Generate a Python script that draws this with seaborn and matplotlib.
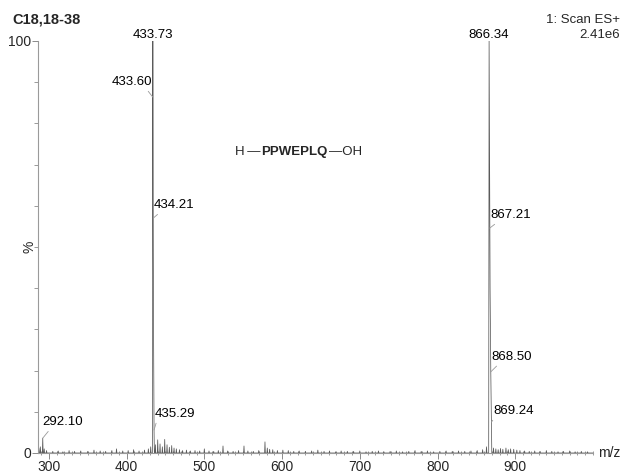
import numpy as np
import pandas as pd
import matplotlib
matplotlib.use("Agg")
import matplotlib.pyplot as plt
from matplotlib.ticker import MultipleLocator, FixedLocator
import seaborn as sns

# ---- data -------------------------------------------------------------
# labelled profile points (m/z, relative intensity %)
label_mz = [292.10, 433.60, 433.73, 434.21, 435.29, 866.34, 867.21, 868.50, 869.24]
label_pct = [3.6, 86.4, 100.0, 57.0, 5.6, 100.0, 54.6, 19.7, 7.5]

# profile of the two main isotope clusters
cluster1_mz = [433.20, 433.60, 433.73, 434.21, 434.70, 435.29, 435.70]
cluster1_pct = [0.0, 86.4, 100.0, 57.0, 28.0, 5.6, 0.0]
cluster2_mz = [865.80, 866.34, 867.21, 867.60, 868.50, 869.24, 869.80]
cluster2_pct = [0.0, 100.0, 54.6, 40.0, 19.7, 7.5, 0.0]

# minor peaks / baseline noise
noise_mz = [287, 289, 292.1, 294, 297, 305, 312, 318, 326, 333, 341, 350, 358, 366,
            373, 381, 387, 395, 402, 409, 416, 423, 428, 431, 437, 440, 443, 446,
            449, 452, 455, 458, 461, 464, 468, 472, 477, 482, 488, 494, 500, 506,
            512, 518, 524, 530, 537, 544, 551, 556, 563, 570, 578, 581, 584, 588,
            594, 601, 608, 615, 622, 630, 638, 646, 654, 661, 669, 676, 684, 692,
            700, 708, 716, 724, 731, 739, 747, 755, 763, 771, 779, 787, 795, 803,
            811, 819, 827, 835, 843, 851, 858, 863, 872, 875, 878, 881, 884, 888,
            891, 894, 898, 902, 906, 912, 918, 925, 932, 940, 947, 955, 962, 970,
            977, 985, 993]
noise_pct = [1.2, 1.5, 3.6, 1.0, 0.6, 0.4, 0.5, 0.3, 0.6, 0.4, 0.5, 0.4, 0.7, 0.5,
             0.4, 0.6, 1.0, 0.5, 0.6, 0.8, 0.5, 0.7, 1.0, 1.5, 2.0, 3.2, 2.2, 1.5,
             3.3, 2.0, 1.4, 1.8, 1.2, 1.0, 0.8, 0.6, 0.7, 0.5, 0.6, 0.5, 1.0, 0.5,
             0.4, 0.6, 1.7, 0.5, 0.4, 0.6, 1.7, 0.5, 0.4, 0.6, 2.7, 1.2, 0.9, 0.8,
             0.6, 0.7, 0.6, 0.4, 0.5, 0.4, 0.5, 0.7, 0.4, 0.5, 0.3, 0.5, 0.4, 0.4,
             0.5, 0.3, 0.4, 0.5, 0.3, 0.4, 0.5, 0.3, 0.4, 0.6, 0.4, 0.5, 0.3, 0.4,
             0.5, 0.4, 0.5, 0.4, 0.5, 0.6, 0.8, 1.5, 1.2, 1.0, 0.8, 1.1, 0.9, 1.2,
             0.8, 1.0, 0.9, 0.7, 0.6, 0.5, 0.4, 0.5, 0.4, 0.6, 0.4, 0.3, 0.4, 0.5,
             0.3, 0.4, 0.3]

x_major = [300, 400, 500, 600, 700, 800, 900]

# ---- build the continuous trace -----------------------------------------
pts = [(286.0, 0.0), (1000.0, 0.0)]
for m, h in zip(noise_mz, noise_pct):
    pts += [(m - 0.5, 0.0), (m, h), (m + 0.5, 0.0)]
pts += list(zip(cluster1_mz, cluster1_pct))
pts += list(zip(cluster2_mz, cluster2_pct))
pts.sort(key=lambda p: p[0])
trace = pd.DataFrame(pts, columns=["mz", "pct"])

# ---- figure -------------------------------------------------------------
sns.set_style("white")
plt.rcParams["font.family"] = ["Liberation Sans", "DejaVu Sans"]

fig = plt.figure(figsize=(6.26, 4.75), dpi=100)
ax = fig.add_axes([38 / 626, 22 / 475, 555 / 626, 412 / 475])

sns.lineplot(data=trace, x="mz", y="pct", sort=False, estimator=None,
             color="#5a5a5a", linewidth=0.55, ax=ax)

ax.set_xlim(286, 1000)
ax.set_ylim(0, 100)
ax.set_xlabel("")
ax.set_ylabel("")

for side in ("top", "right"):
    ax.spines[side].set_visible(False)
for side in ("left", "bottom"):
    ax.spines[side].set_color("#9a9a9a")
    ax.spines[side].set_linewidth(0.8)

ax.xaxis.set_major_locator(FixedLocator(x_major))
ax.xaxis.set_minor_locator(MultipleLocator(10))
ax.yaxis.set_major_locator(FixedLocator([0, 100]))
ax.yaxis.set_minor_locator(MultipleLocator(10))
ax.tick_params(axis="x", which="major", length=4, width=0.7, color="#8a8a8a",
               direction="out", labelsize=10, pad=1, bottom=True)
ax.tick_params(axis="x", which="minor", length=3, width=0.6, color="#8a8a8a",
               direction="inout", bottom=True)
ax.tick_params(axis="y", which="major", length=4, width=0.7, color="#8a8a8a",
               direction="out", labelsize=10, pad=1, left=True)
ax.tick_params(axis="y", which="minor", length=3, width=0.6, color="#8a8a8a",
               direction="out", left=True)
ax.grid(False)

# ---- peak labels ----------------------------------------------------------
label_style = {
    292.10: dict(off=(0, 16), ha="left", rel=(0.2, 0.0)),
    433.60: dict(off=(-1, 15), ha="right", rel=(0.85, 0.0)),
    433.73: dict(off=(0, 6), ha="center", rel=None),
    434.21: dict(off=(0, 13), ha="left", rel=(0.2, 0.0)),
    435.29: dict(off=(1, 16), ha="left", rel=(0.05, 0.0)),
    866.34: dict(off=(0, 6), ha="center", rel=None),
    867.21: dict(off=(1, 13), ha="left", rel=(0.2, 0.0)),
    868.50: dict(off=(1, 15), ha="left", rel=(0.2, 0.0)),
    869.24: dict(off=(2, 11), ha="left", rel=(0.05, 0.0)),
}
for m, h in zip(label_mz, label_pct):
    st = label_style[m]
    kw = {}
    if st["rel"] is not None:
        kw["arrowprops"] = dict(arrowstyle="-", color="#9a9a9a", lw=0.6,
                                shrinkA=0, shrinkB=0, relpos=st["rel"])
    ax.annotate(f"{m:.2f}", xy=(m, h), xytext=st["off"],
                textcoords="offset pixels", ha=st["ha"], va="center",
                fontsize=9.5, color="black", annotation_clip=False, **kw)

# ---- peptide sequence -------------------------------------------------------
t1 = ax.text(0.355, 0.731, "H\u2009\u2014", transform=ax.transAxes,
             ha="left", va="center", fontsize=9.5,
             family=["Liberation Sans", "DejaVu Sans"])
t2 = ax.annotate("PPWEPLQ", xy=(1, 0.5), xycoords=t1, xytext=(1, 0),
                 textcoords="offset pixels", ha="left", va="center",
                 fontsize=9.5, fontweight="bold")
ax.annotate("\u2014OH", xy=(1, 0.5), xycoords=t2, xytext=(1, 0),
            textcoords="offset pixels", ha="left", va="center", fontsize=9.5)

# ---- header and axis texts ---------------------------------------------------
fig.text(12 / 626, 1 - 20 / 475, "C18,18-38", ha="left", va="center",
         fontsize=10.5, fontweight="bold")
fig.text(620 / 626, 1 - 20 / 475, "1: Scan ES+", ha="right", va="center",
         fontsize=9.5)
fig.text(620 / 626, 1 - 35 / 475, "2.41e6", ha="right", va="center",
         fontsize=9.5)
fig.text(30 / 626, 1 - 247 / 475, "%", ha="center", va="center",
         rotation=90, fontsize=10)
fig.text(598 / 626, 22 / 475, "m/z", ha="left", va="center", fontsize=10)

fig.savefig("out.png", dpi=100)
